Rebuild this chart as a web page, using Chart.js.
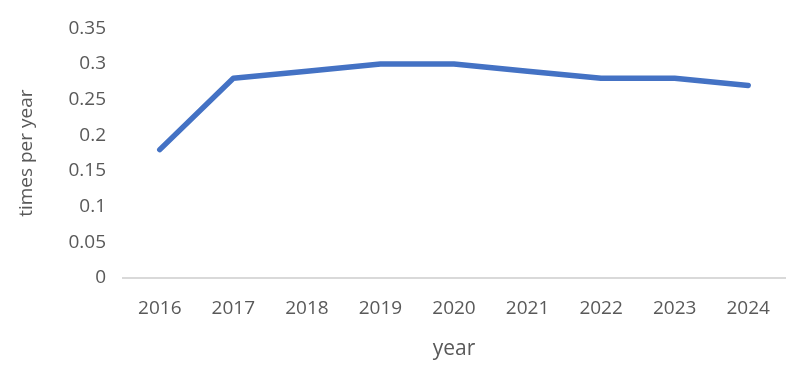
<!DOCTYPE html>
<html><head><meta charset="utf-8">
<script src="https://cdn.jsdelivr.net/npm/chart.js@4/dist/chart.umd.min.js"></script>
<style>html,body{margin:0;padding:0;background:#fff}#w{width:802px;height:373px}</style>
</head><body><div id="w"><canvas id="c"></canvas></div>
<script>
const categories = ["2016","2017","2018","2019","2020","2021","2022","2023","2024"];
const values = [0.18,0.28,0.29,0.30,0.30,0.29,0.28,0.28,0.27];
const yTicks = [0,0.05,0.1,0.15,0.2,0.25,0.3,0.35];
const fontFam = "'Open Sans', sans-serif";
const txt = "#595959";
new Chart(document.getElementById('c'), {
  type: 'line',
  data: { labels: categories, datasets: [{ data: values, borderColor: '#4472C4', borderWidth: 5.5, pointRadius: 0, tension: 0, borderCapStyle: 'round', borderJoinStyle: 'round' }] },
  options: {
    responsive: true, maintainAspectRatio: false, animation: false,
    layout: { padding: { top: 20, right: 17, left: 15, bottom: 0 } },
    plugins: { legend: { display: false }, tooltip: { enabled: false } },
    scales: {
      x: {
        offset: true,
        grid: { display: false, drawTicks: false, offset: true },
        border: { display: true, color: '#d9d9d9', width: 2 },
        ticks: { color: txt, font: { family: fontFam, size: 19 }, padding: 19, maxRotation: 0 },
        title: { display: true, text: 'year', color: txt, font: { family: fontFam, size: 21 }, padding: { top: 8, bottom: 11 } },
        afterFit: s => { s.height = 95; }
      },
      y: {
        min: 0, max: 0.35,
        afterBuildTicks: s => { s.ticks = yTicks.map(v => ({ value: v })); },
        grid: { display: false, drawTicks: false },
        border: { display: false },
        ticks: { color: txt, font: { family: fontFam, size: 19 }, padding: 17, callback: v => String(v) },
        title: { display: true, text: 'times per year', color: txt, font: { family: fontFam, size: 19 }, padding: { top: 0, bottom: 0 } },
        afterFit: s => { s.width = 108; }
      }
    }
  }
});
</script></body></html>
